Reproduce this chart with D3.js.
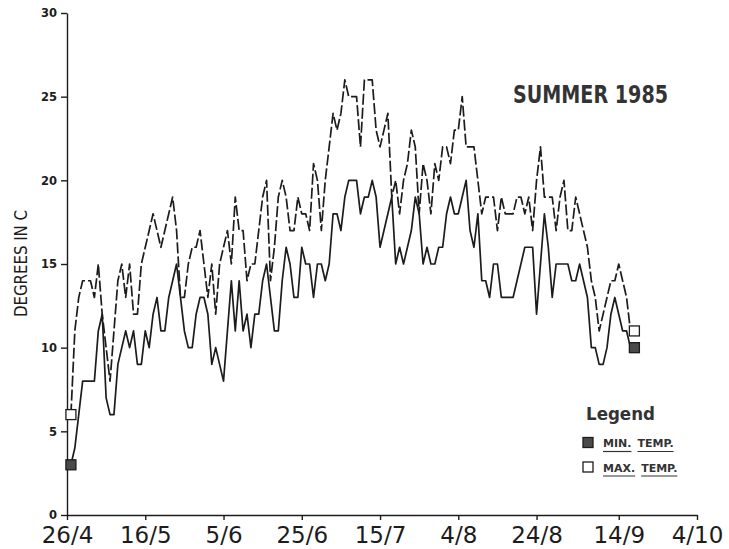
<!DOCTYPE html>
<html>
<head>
<meta charset="utf-8">
<script src="https://cdn.jsdelivr.net/npm/d3@7"></script>
<style>
  html, body { margin: 0; padding: 0; background: #fff; }
  svg { display: block; }
</style>
</head>
<body>
<div id="chart"></div>
<script>
// daily readings, first one on 27/4
const startLabel = '26/4';
const minTemp = [
    3, 4, 6, 8, 8, 8, 8, 11, 12, 7,
    6, 6, 9, 10, 11, 10, 11, 9, 9, 11,
    10, 12, 13, 11, 11, 13, 14, 15, 13, 11,
    10, 10, 12, 13, 13, 12, 9, 10, 9, 8,
    11, 14, 11, 14, 11, 12, 10, 12, 12, 14,
    15, 13, 11, 11, 14, 16, 15, 13, 13, 16,
    15, 15, 13, 15, 15, 14, 15, 18, 18, 17,
    19, 20, 20, 20, 18, 19, 19, 20, 19, 16,
    17, 18, 19, 15, 16, 15, 16, 17, 19, 18,
    15, 16, 15, 15, 16, 16, 18, 19, 18, 18,
    19, 20, 17, 16, 18, 14, 14, 13, 15, 15,
    13, 13, 13, 13, 14, 15, 16, 16, 16, 12,
    15, 18, 16, 13, 15, 15, 15, 15, 14, 14,
    15, 14, 13, 10, 10, 9, 9, 10, 12, 13,
    12, 11, 11, 10, 10
];
const maxTemp = [
    6, 11, 13, 14, 14, 14, 13, 15, 12, 10,
    8, 11, 14, 15, 13, 15, 12, 12, 15, 16,
    17, 18, 17, 16, 17, 18, 19, 17, 13, 13,
    15, 16, 16, 17, 15, 13, 15, 12, 15, 16,
    17, 15, 19, 17, 17, 14, 15, 15, 17, 19,
    20, 14, 16, 19, 20, 19, 17, 17, 19, 18,
    18, 17, 21, 20, 17, 20, 22, 24, 23, 24,
    26, 25, 25, 25, 22, 26, 26, 26, 23, 22,
    23, 24, 19, 20, 18, 20, 21, 23, 22, 18,
    21, 20, 18, 21, 20, 22, 22, 21, 23, 23,
    25, 22, 22, 22, 20, 18, 19, 19, 19, 17,
    19, 18, 18, 18, 19, 19, 18, 19, 17, 20,
    22, 19, 19, 19, 17, 19, 20, 17, 17, 19,
    18, 17, 16, 14, 13, 11, 12, 13, 14, 14,
    15, 14, 13, 11, 11
];
const xTickLabels = ['26/4', '16/5', '5/6', '25/6', '15/7', '4/8', '24/8', '14/9', '4/10'];
const yTicks = [0, 5, 10, 15, 20, 25, 30];
const seriesNames = ['MIN. TEMP.', 'MAX. TEMP.'];

const width = 729;
const height = 549;
const ink = '#1c1c1c';

// "d/m" -> UTC date in 1985
function parseDay(label) {
    const [d, m] = label.split('/').map(Number);
    return new Date(Date.UTC(1985, m - 1, d));
}

const startDate = parseDay(startLabel);
const dayAt = i => d3.utcDay.offset(startDate, i + 1);
const xTickDates = xTickLabels.map(parseDay);

const svg = d3.select('#chart')
    .append('svg')
    .attr('width', width)
    .attr('height', height);

const x = d3.scaleUtc()
    .domain([xTickDates[0], xTickDates[xTickDates.length - 1]])
    .range([67, 697]);

const y = d3.scaleLinear()
    .domain([0, 30])
    .range([515, 13]);

// axes
const xAxis = svg.append('g')
    .attr('transform', `translate(0, ${y(0)})`)
    .call(d3.axisBottom(x)
        .tickValues(xTickDates)
        .tickFormat((d, i) => xTickLabels[i])
        .tickSize(5)
        .tickSizeOuter(0)
        .tickPadding(7));

xAxis.selectAll('text')
    .attr('font-family', '"DejaVu Sans", sans-serif')
    .attr('font-size', 23)
    .attr('fill', ink);

const yAxis = svg.append('g')
    .attr('transform', `translate(${x(xTickDates[0])}, 0)`)
    .call(d3.axisLeft(y)
        .tickValues(yTicks)
        .tickSize(6)
        .tickSizeOuter(0)
        .tickPadding(4));

yAxis.selectAll('text')
    .attr('font-family', '"DejaVu Sans", sans-serif')
    .attr('font-weight', 'bold')
    .attr('font-size', 11.5)
    .attr('fill', ink);

svg.selectAll('.domain, .tick line')
    .attr('stroke', ink)
    .attr('stroke-width', 1.4);

// axis title
svg.append('text')
    .attr('transform', `translate(27, 263.5) rotate(-90)`)
    .attr('text-anchor', 'middle')
    .attr('font-family', '"DejaVu Sans", sans-serif')
    .attr('font-size', 17)
    .attr('textLength', 107)
    .attr('lengthAdjust', 'spacingAndGlyphs')
    .attr('fill', ink)
    .text('DEGREES IN C');

// chart title
svg.append('text')
    .attr('x', 513)
    .attr('y', 103)
    .attr('font-family', '"DejaVu Sans", sans-serif')
    .attr('font-weight', 'bold')
    .attr('font-size', 24)
    .attr('textLength', 155)
    .attr('lengthAdjust', 'spacingAndGlyphs')
    .attr('fill', '#333')
    .text('SUMMER 1985');

// lines
const line = d3.line()
    .x((d, i) => x(dayAt(i)))
    .y(d => y(d));

svg.append('path')
    .datum(maxTemp)
    .attr('d', line)
    .attr('fill', 'none')
    .attr('stroke', ink)
    .attr('stroke-width', 1.7)
    .attr('stroke-dasharray', '11,3')
    .attr('stroke-linejoin', 'round');

svg.append('path')
    .datum(minTemp)
    .attr('d', line)
    .attr('fill', 'none')
    .attr('stroke', ink)
    .attr('stroke-width', 1.7)
    .attr('stroke-linejoin', 'round');

// end markers: filled square = min, open square = max
const markerSize = 10;

function drawMarker(g, cx, cy, filled) {
    g.append('rect')
        .attr('x', cx - markerSize / 2)
        .attr('y', cy - markerSize / 2)
        .attr('width', markerSize)
        .attr('height', markerSize)
        .attr('fill', filled ? '#4a4a4a' : '#fff')
        .attr('stroke', ink)
        .attr('stroke-width', 1.3);
}

[0, minTemp.length - 1].forEach(i => {
    drawMarker(svg, x(dayAt(i)), y(maxTemp[i]), false);
    drawMarker(svg, x(dayAt(i)), y(minTemp[i]), true);
});

// legend
const legend = svg.append('g');

legend.append('text')
    .attr('x', 586)
    .attr('y', 420)
    .attr('font-family', '"DejaVu Sans", sans-serif')
    .attr('font-weight', 'bold')
    .attr('font-size', 17)
    .attr('textLength', 69)
    .attr('lengthAdjust', 'spacingAndGlyphs')
    .attr('fill', '#333')
    .text('Legend');

seriesNames.forEach((name, i) => {
    const rowY = 442.5 + i * 24.5;
    drawMarker(legend, 588, rowY, i === 0);

    // each word underlined on its own, like the lettering stencil
    let wx = 603;
    name.split(' ').forEach(word => {
        const t = legend.append('text')
            .attr('x', wx)
            .attr('y', rowY + 4.5)
            .attr('font-family', '"DejaVu Sans", sans-serif')
            .attr('font-weight', 'bold')
            .attr('font-size', 11)
            .attr('fill', '#333')
            .text(word);
        const w = t.node().getComputedTextLength();
        legend.append('line')
            .attr('x1', wx)
            .attr('x2', wx + w)
            .attr('y1', rowY + 9)
            .attr('y2', rowY + 9)
            .attr('stroke', '#333')
            .attr('stroke-width', 1.2);
        wx += w + 6;
    });
});
</script>
</body>
</html>
